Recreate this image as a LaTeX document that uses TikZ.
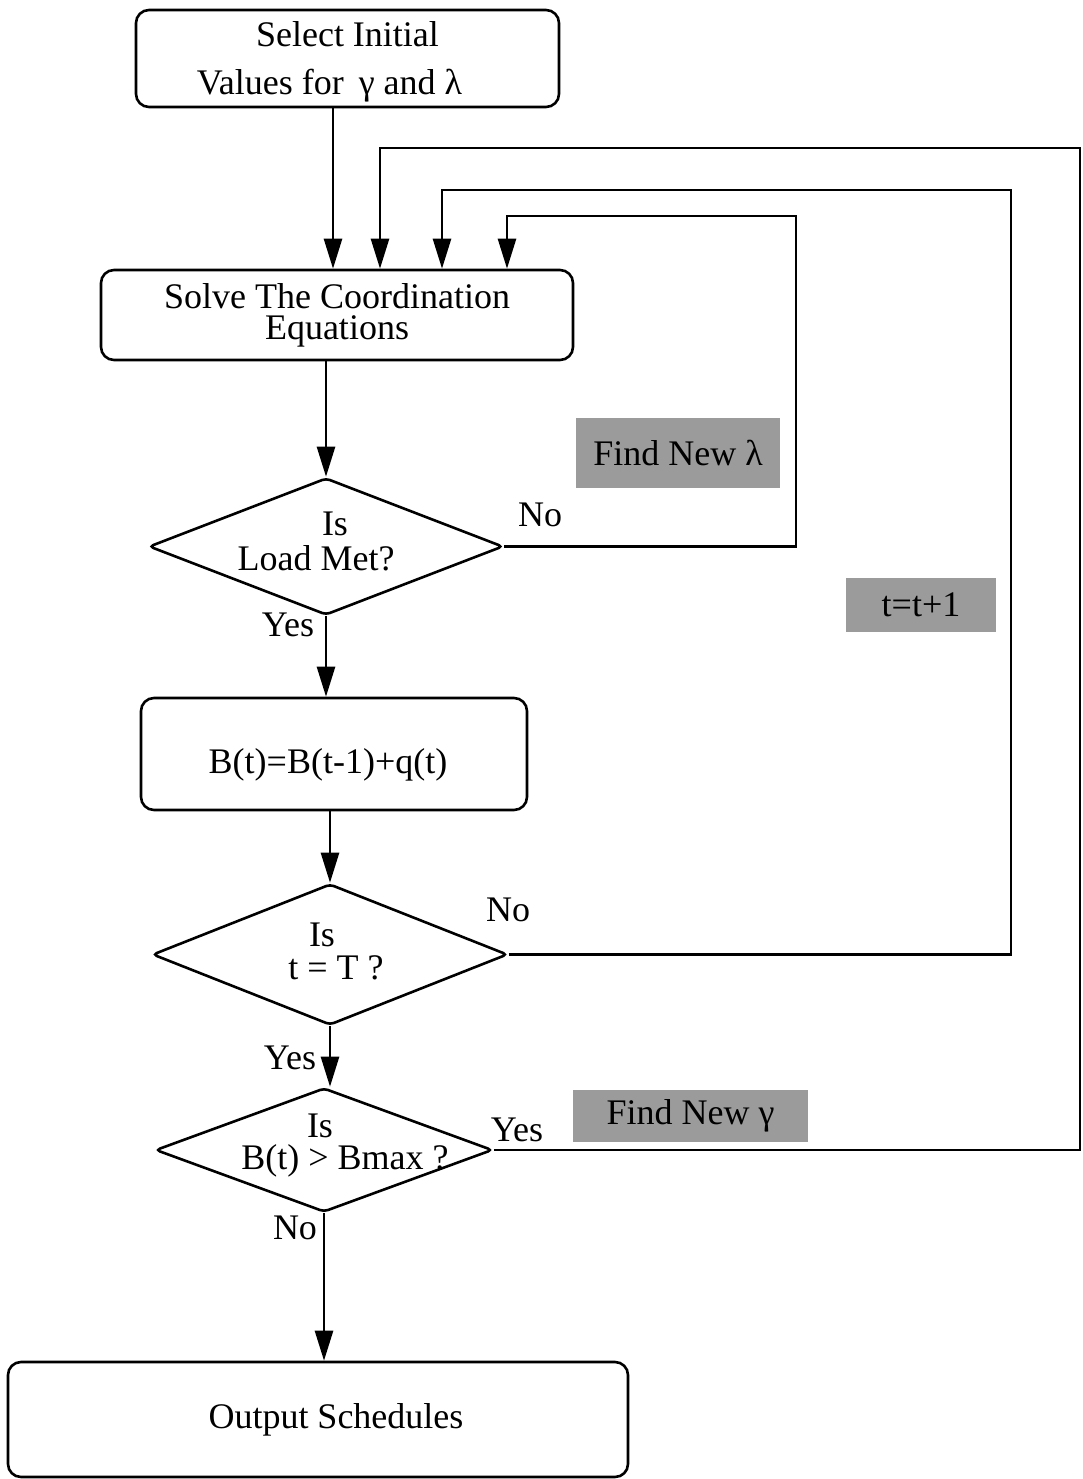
\documentclass[tikz,border=0pt]{standalone}
\usepackage{fontspec}
\setmainfont{Liberation Serif}
\usetikzlibrary{arrows.meta,shapes.geometric}
\definecolor{graybox}{RGB}{155,155,155}
\begin{document}
\begin{tikzpicture}[x=1pt,y=-1pt,
  every node/.style={font=\fontsize{36}{40}\selectfont, inner sep=0pt},
  box/.style={draw, line width=2.6pt, rounded corners=13pt, align=center},
  dia/.style={draw, diamond, line width=2.6pt, rounded corners=4pt},
  graylabel/.style={fill=graybox},
  arr/.style={line width=2.6pt, -{Triangle[length=30pt,width=18pt]}}]
\useasboundingbox (0,0) rectangle (1083,1479);

% boxes
\node[box, minimum width=423pt, minimum height=97pt,
  label={[align=center,yshift=-3pt]center:Select Initial\\[8pt]Values for \,γ and λ\hspace*{36pt}}] (b1) at (347.5,58.5) {};
\node[box, minimum width=472pt, minimum height=90pt] (b2) at (337,315)
  {Solve The Coordination\\[-9pt]Equations};
\node[box, minimum width=386pt, minimum height=112pt,
  label={[yshift=-11pt,xshift=-6pt]center:B(t)=B(t-1)+q(t)}] (b3) at (334,754) {};
\node[box, minimum width=620pt, minimum height=115pt] (b4) at (318,1419.5)
  {\hspace*{36pt}Output Schedules};

% diamonds
\node[dia, minimum width=354pt, minimum height=137pt] (d1) at (326,546.5) {};
\node (d1a) at (335,524) {Is};
\node (d1b) at (316,558) {Load Met?};
\node[dia, minimum width=355pt, minimum height=141pt] (d2) at (330,954.5) {};
\node (d2a) at (322,935) {Is};
\node (d2b) at (336,968) {t = T ?};
\node[dia, minimum width=337pt, minimum height=124pt] (d3) at (324,1150) {};
\node (d3a) at (320,1126) {Is};
\node (d3b) at (345,1161) {B(t) > Bmax ?};

% gray labels
\node[graylabel, minimum width=204pt, minimum height=70pt] (g1) at (678,453) {Find New λ};
\node[graylabel, minimum width=150pt, minimum height=54pt] (g2) at (921,605) {t=t+1};
\node[graylabel, minimum width=235pt, minimum height=52pt] (g3) at (690.5,1116) {Find New γ};

% yes/no labels
\node (n1) at (540,515) {No};
\node (y1) at (288,625) {Yes};
\node (n2) at (508,910) {No};
\node (y2) at (290,1058) {Yes};
\node (y3) at (517,1130) {Yes};
\node (n3) at (295,1228) {No};

% coordinates for connectors
\coordinate (k0) at (333,0);
\coordinate (k1) at (380,148);
\coordinate (k2) at (442,190);
\coordinate (k3) at (507,216);
\coordinate (r1) at (796,216);
\coordinate (r2) at (1011,190);
\coordinate (r3) at (1080,148);

% connectors
\draw[arr] (b1.south -| k0) -- (b2.north -| k0);
\draw[arr] (d1.east) -| (r1) -| (b2.north -| k3);
\draw[arr] (d2.east) -| (r2) -| (b2.north -| k2);
\draw[arr] (d3.east) -| (r3) -| (b2.north -| k1);
\draw[arr] (d1.north |- b2.south) -- (d1.north);
\draw[arr] (d1.south) -- (d1.south |- b3.north);
\draw[arr] (d2.north |- b3.south) -- (d2.north);
\draw[arr] (d2.south) -- (d2.south |- d3.north);
\draw[arr] (d3.south) -- (d3.south |- b4.north);
\end{tikzpicture}
\end{document}
